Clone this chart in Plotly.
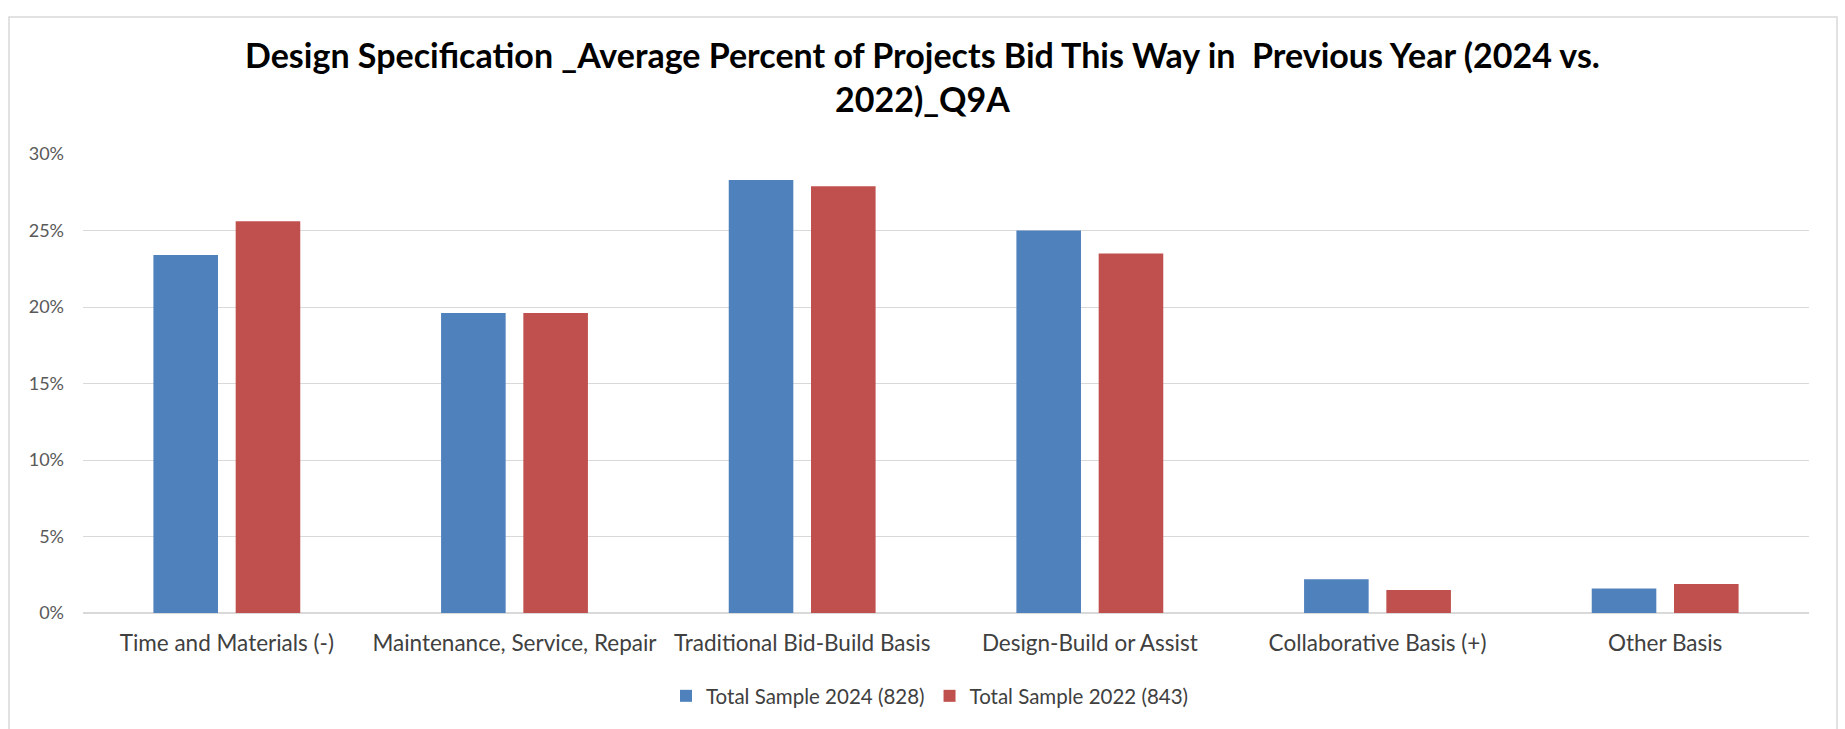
import plotly.graph_objects as go

categories = [
    "Time and Materials (-)",
    "Maintenance, Service, Repair",
    "Traditional Bid-Build Basis",
    "Design-Build or Assist",
    "Collaborative Basis (+)",
    "Other Basis",
]
sample_2024 = [23.4, 19.6, 28.3, 25.0, 2.2, 1.6]
sample_2022 = [25.6, 19.6, 27.9, 23.5, 1.5, 1.9]
series_names = ["Total Sample 2024 (828)", "Total Sample 2022 (843)"]
y_ticks = [0, 5, 10, 15, 20, 25, 30]
y_tick_labels = ["0%", "5%", "10%", "15%", "20%", "25%", "30%"]

title_text = ("Design Specification _Average Percent of Projects Bid This Way in  "
              "Previous Year (2024 vs.<br>2022)_Q9A")

W, H = 1845, 729
ML, MR, MT, MB = 83, 36, 154, 116
PW, PH = W - ML - MR, H - MT - MB

FONT = "Lato, 'Open Sans', sans-serif"

fig = go.Figure()
fig.add_trace(go.Bar(x=categories, y=sample_2024, name=series_names[0],
                     marker=dict(color="#4F81BD", line=dict(width=0))))
fig.add_trace(go.Bar(x=categories, y=sample_2022, name=series_names[1],
                     marker=dict(color="#C0504D", line=dict(width=0))))


def px_x(p):
    return (p - ML) / PW


def px_y(p):
    return (H - MB - p) / PH


fig.update_layout(
    width=W, height=H,
    margin=dict(l=ML, r=MR, t=MT, b=MB),
    paper_bgcolor="white", plot_bgcolor="white",
    barmode="group", bargap=0.428, bargroupgap=0.215,
    title=dict(text=title_text, x=0.5, xanchor="center", y=1 - 68 / H, yanchor="middle",
               font=dict(family=FONT, size=34, color="#000000", weight="bold")),
    font=dict(family=FONT, color="#404040"),
    xaxis=dict(showgrid=False, showline=False, zeroline=False, ticks="",
               tickfont=dict(size=22.5, color="#404040"), ticklabelstandoff=14,
               fixedrange=True),
    yaxis=dict(range=[0, 30], tickmode="array", tickvals=y_ticks, ticktext=y_tick_labels,
               showgrid=True, gridcolor="#D9D9D9", gridwidth=1.3,
               zeroline=True, zerolinecolor="#D9D9D9", zerolinewidth=1.5,
               showline=False, ticks="", ticklabelstandoff=18,
               tickfont=dict(size=18, color="#595959"), fixedrange=True),
    legend=dict(orientation="h", x=0.5 - 16 / PW, xanchor="center", y=px_y(696),
                yanchor="middle", font=dict(size=20.5, color="#404040"), itemwidth=30,
                traceorder="normal", bgcolor="rgba(0,0,0,0)"),
    shapes=[dict(type="rect", xref="paper", yref="paper",
                 x0=px_x(9), x1=px_x(1837), y0=px_y(740), y1=px_y(17),
                 line=dict(color="#D9D9D9", width=1.5), fillcolor="rgba(0,0,0,0)",
                 layer="below")],
)

fig.write_html("out.html")
